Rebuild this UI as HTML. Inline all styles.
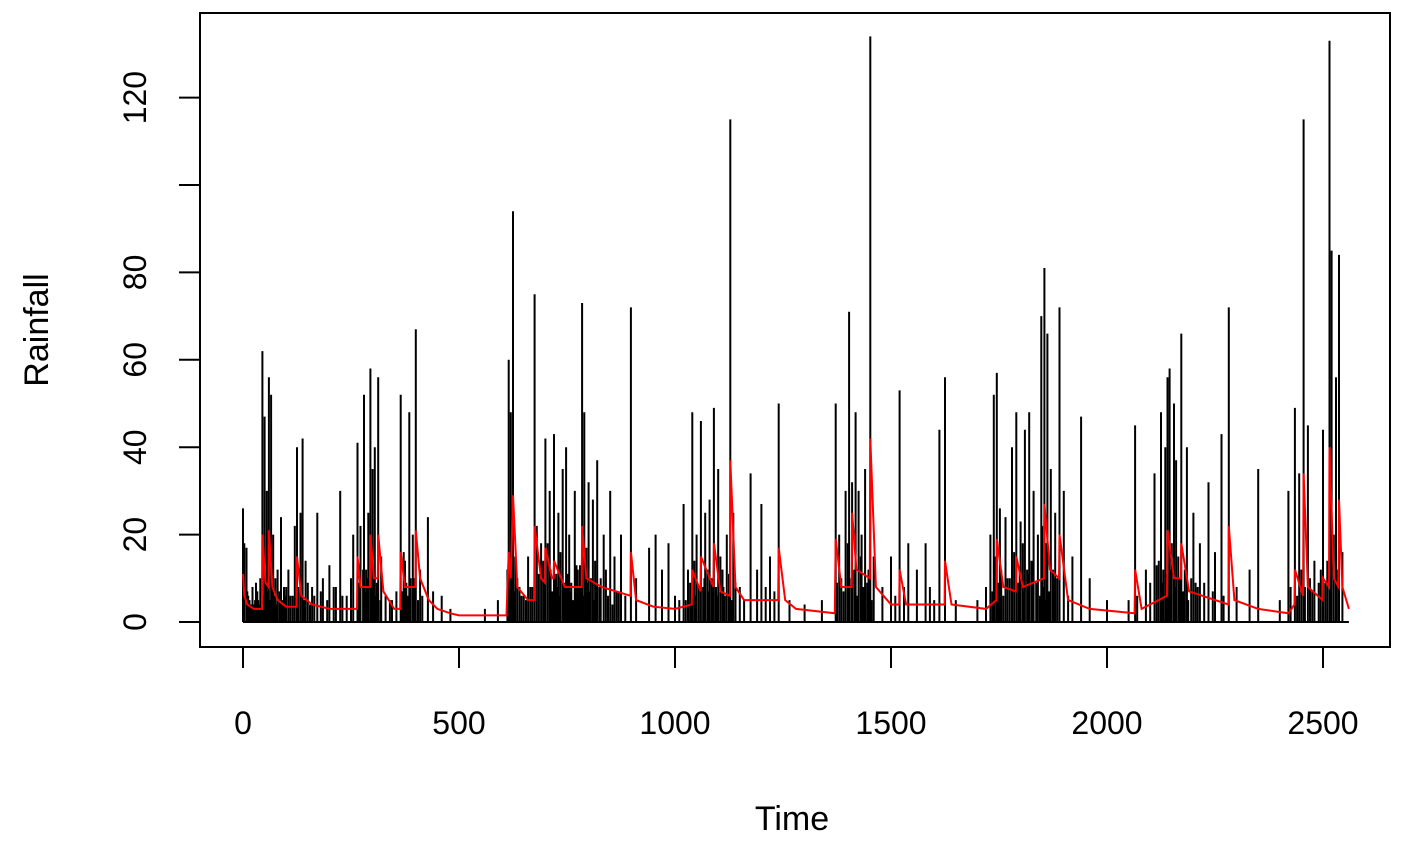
<!DOCTYPE html>
<html><head><meta charset="utf-8"><style>
html,body{margin:0;padding:0;background:#fff;}
svg text{font-family:"Liberation Sans",Arial,sans-serif;fill:#000;}
</style></head><body>
<svg id="chart" width="1404" height="844" viewBox="0 0 1404 844">
<rect x="200" y="13" width="1190" height="634" fill="none" stroke="#000" stroke-width="2"/>
<g id="bars"></g>
<g id="fit"></g>
<g id="xaxis"></g>
<g id="yaxis"></g>
<text x="792" y="830" font-size="34" text-anchor="middle">Time</text>
<text transform="translate(48,330) rotate(-90)" font-size="34" text-anchor="middle">Rainfall</text>
</svg>
<script>
const spikeTimes=[0,3,8,15,25,40,45,50,55,60,65,70,80,88,95,110,120,125,133,138,145,160,172,185,200,215,225,240,255,265,272,280,290,295,300,305,313,320,330,345,365,372,385,393,400,410,428,440,460,480,560,590,615,620,625,630,640,660,675,680,690,700,710,720,730,740,748,755,768,775,785,790,800,810,820,835,850,860,875,898,910,940,955,970,985,1000,1020,1030,1040,1050,1060,1070,1080,1090,1100,1110,1120,1128,1135,1150,1175,1190,1200,1220,1240,1265,1300,1340,1372,1380,1395,1403,1410,1418,1425,1432,1440,1452,1460,1480,1500,1520,1540,1560,1580,1590,1612,1625,1650,1700,1720,1730,1738,1745,1752,1765,1780,1790,1800,1810,1820,1830,1848,1855,1862,1870,1880,1890,1900,1920,1940,1960,2000,2050,2065,2090,2110,2125,2135,2140,2145,2155,2160,2172,2185,2200,2215,2235,2250,2265,2282,2300,2330,2350,2400,2420,2435,2445,2455,2465,2480,2500,2515,2520,2530,2537,2545];
const spikeValues=[26,18,17,5,4,10,62,47,30,56,52,20,12,24,8,6,22,40,25,42,14,8,25,10,13,8,30,6,20,41,22,52,25,58,35,40,56,15,6,5,52,16,48,20,67,12,24,7,6,3,3,5,60,48,94,15,8,15,75,22,18,42,30,43,25,35,40,20,30,12,73,48,32,28,37,20,30,15,20,72,10,17,20,12,18,6,27,12,48,20,46,25,28,49,35,12,20,115,25,8,34,12,27,15,50,5,4,5,50,20,30,71,32,48,30,20,35,134,15,8,15,53,18,12,18,8,44,56,5,5,8,20,52,57,26,24,40,48,23,44,48,30,70,81,66,35,25,72,30,15,47,10,5,5,45,12,34,48,40,56,58,50,37,66,40,25,18,32,16,43,72,8,12,35,5,30,49,34,115,45,14,44,133,85,56,84,16];
const smallTimes=[10,30,35,75,100,105,115,150,180,195,210,230,250,285,310,340,355,375,395,415,620,650,665,695,705,725,735,760,780,795,805,815,825,840,865,885,1010,1035,1045,1065,1075,1085,1095,1105,1115,1140,1160,1210,1230,1385,1400,1415,1430,1445,1510,1530,1600,1740,1755,1770,1785,1795,1805,1815,1825,1840,1850,1860,1875,1885,1910,2070,2100,2120,2130,2150,2165,2180,2195,2210,2225,2245,2270,2425,2450,2470,2490,2510,2525,2535,
 12,18,22,28,33,38,42,48,53,58,63,68,73,78,85,92,98,128,142,155,165,268,278,283,288,298,303,308,318,368,378,382,388,398,405,612,617,623,628,635,645,655,670,685,698,712,716,722,728,733,744,751,758,764,772,778,783,788,793,798,803,812,818,828,845,855,870,1025,1038,1048,1055,1068,1078,1088,1098,1112,1125,1132,1375,1390,1408,1422,1436,1448,1455,1735,1748,1760,1775,1790,1798,1808,1818,1828,1836,1845,1852,1858,1866,1878,2115,2128,2138,2143,2148,2158,2168,2176,2188,2205,2440,2458,2475,2495,2505,2518,2528,2540];
const smallValues=[7,9,5,10,8,12,6,9,7,5,8,6,10,12,9,5,7,14,10,6,20,6,8,14,18,11,16,9,13,17,10,14,8,12,7,6,5,9,14,8,12,10,8,15,6,9,5,8,7,10,18,12,15,9,6,8,5,15,12,10,16,9,18,12,14,20,22,18,12,10,6,6,9,14,12,18,15,12,10,8,9,7,6,8,12,10,9,14,20,12,
 6,4,8,5,7,4,9,6,10,7,5,8,6,4,7,5,6,8,5,4,6,9,12,7,10,8,11,6,5,7,9,6,10,8,5,12,9,14,7,10,6,5,8,11,9,12,7,10,8,6,9,11,7,5,13,8,10,6,12,9,7,5,8,10,6,4,7,5,9,6,8,10,7,9,6,8,11,5,9,7,10,6,8,12,5,7,9,6,10,8,12,7,11,14,9,6,8,5,7,10,13,9,11,6,12,8,10,7,5,9,6,8,7,12,9,10];
const fitTimes=[0,3,10,25,44,45,52,59,60,68,80,100,124,125,135,160,200,264,265,272,294,295,303,312,313,325,350,364,365,375,399,400,410,430,450,480,500,610,615,620,625,635,660,674,675,690,699,700,715,719,720,745,784,785,795,830,897,898,910,950,1000,1039,1040,1059,1060,1089,1090,1105,1127,1128,1140,1160,1239,1240,1255,1280,1370,1372,1385,1409,1410,1420,1451,1452,1465,1500,1519,1520,1535,1624,1625,1640,1720,1744,1745,1760,1789,1790,1805,1854,1855,1868,1889,1890,1910,1960,2064,2065,2080,2139,2140,2155,2171,2172,2190,2281,2282,2295,2350,2420,2434,2435,2454,2455,2465,2499,2500,2514,2515,2525,2536,2537,2545,2560];
const fitValues=[11,6,4,3,3,20,9,8,21,8,5,3.5,3.5,15,6,4,3,3,15,8,8,20,10,10,20,7,3,3,16,8,8,21,10,5,3,2,1.5,1.5,16,10,29,8,5,5,22,10,9,17,10,10,14,8,8,22,10,8,6,16,5,3.5,3,4,12,7,15,8,18,7,6,37,8,5,5,17,5,3,2,19,8,8,25,12,10,42,8,4,4,12,4,4,14,4,3,5,19,8,7,15,8,10,27,12,10,20,5,3,2,12,3,6,21,10,10,18,7,4,22,5,3,2,4,12,6,34,8,5,10,8,40,10,8,28,8,3];
const xTicks=[0,500,1000,1500,2000,2500];
const yTicks=[0,20,40,60,80,100,120];
const yLabels=["0","20","40","60","80","","120"];

const NS="http://www.w3.org/2000/svg";
const xS=t=>243+t*0.432;
const yS=v=>622-v*4.37;
function mk(tag,attrs,parent){const e=document.createElementNS(NS,tag);for(const k in attrs)e.setAttribute(k,attrs[k]);parent.appendChild(e);return e;}
const bars=document.getElementById('bars');
const allT=spikeTimes.concat(smallTimes), allV=spikeValues.concat(smallValues);
let d="";
allT.forEach((t,i)=>{d+=`M${xS(t).toFixed(1)},${yS(0)}V${yS(allV[i]).toFixed(1)}`;});
const bp=mk('path',{d:d,stroke:'#000','stroke-width':2,fill:'none'},bars);


const base=mk('line',{x1:xS(0),x2:xS(2560),y1:yS(0),y2:yS(0),stroke:'#000','stroke-width':2},bars);


const fit=document.getElementById('fit');
const fp=mk('polyline',{points:fitTimes.map((t,i)=>xS(t).toFixed(1)+','+yS(fitValues[i]).toFixed(1)).join(' '),stroke:'#ff0000','stroke-width':2,fill:'none'},fit);


const xa=document.getElementById('xaxis');
const xl=mk('line',{x1:xS(0),x2:xS(2500),y1:647,y2:647,stroke:'#000','stroke-width':2},xa);


xTicks.forEach(t=>{
 const tk=mk('line',{x1:xS(t),x2:xS(t),y1:647,y2:668,stroke:'#000','stroke-width':2},xa);
 
 
 const tx=mk('text',{x:xS(t),y:734,'font-size':32,'text-anchor':'middle'},xa);
 tx.textContent=t;
 
 
});
const ya=document.getElementById('yaxis');
const yl=mk('line',{x1:200,x2:200,y1:yS(0),y2:yS(120),stroke:'#000','stroke-width':2},ya);


yTicks.forEach((v,i)=>{
 const tk=mk('line',{x1:179,x2:200,y1:yS(v),y2:yS(v),stroke:'#000','stroke-width':2},ya);
 
 
 const tx=mk('text',{transform:`translate(146,${yS(v)}) rotate(-90)`,'font-size':32,'text-anchor':'middle'},ya);
 tx.textContent=yLabels[i];
 
 
});
</script>
</body></html>
